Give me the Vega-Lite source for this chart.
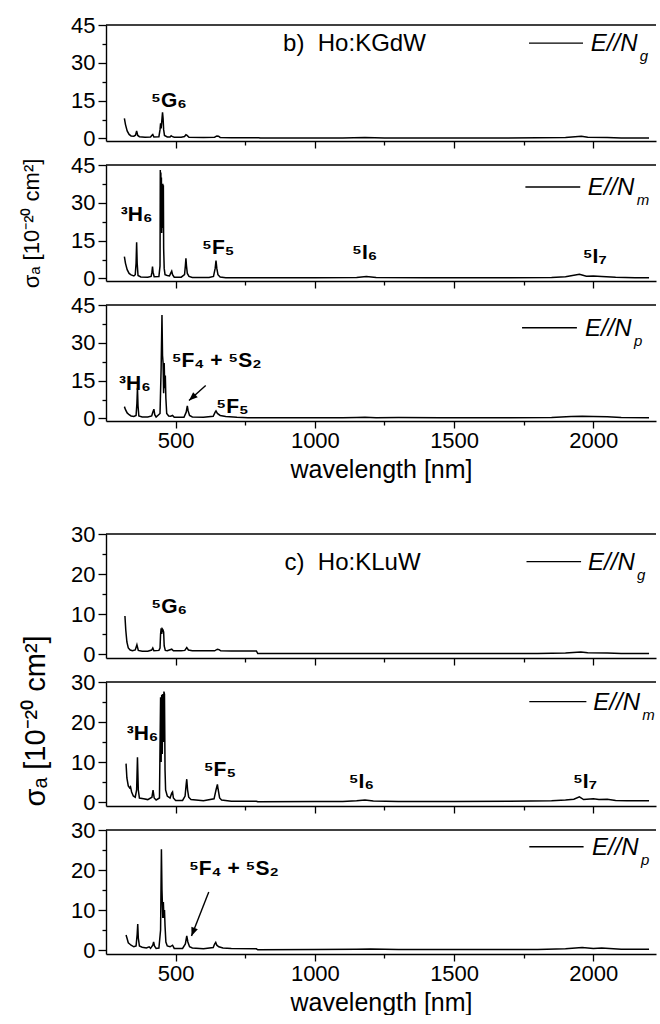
{
"$schema": "https://vega.github.io/schema/vega-lite/v6.json",
"padding": {"left": 20, "top": 14, "right": 5, "bottom": 0},
"spacing": 24,
"bounds": "flush",
"config": {
 "view": {"stroke": null},
 "font": "Liberation Sans",
 "axis": {"domainColor": "black", "domainWidth": 1.4, "tickColor": "black", "tickWidth": 1.3, "labelColor": "black", "labelFontSize": 22, "labelFont": "Liberation Sans", "titleFont": "Liberation Sans", "titleColor": "black", "titleFontWeight": "normal", "grid": false, "labelOverlap": false},
 "text": {"font": "Liberation Sans", "color": "black"}
},
"datasets": {
 "spectra": [
  {"panel":"b1","wl":316,"sigma":8.0},{"panel":"b1","wl":320,"sigma":5.5},{"panel":"b1","wl":326,"sigma":3.0},{"panel":"b1","wl":333,"sigma":1.6},{"panel":"b1","wl":340,"sigma":1.0},{"panel":"b1","wl":350,"sigma":0.9},{"panel":"b1","wl":356,"sigma":1.3},{"panel":"b1","wl":360,"sigma":3.0},{"panel":"b1","wl":364,"sigma":1.2},{"panel":"b1","wl":370,"sigma":0.7},{"panel":"b1","wl":390,"sigma":0.5},{"panel":"b1","wl":410,"sigma":0.6},{"panel":"b1","wl":415,"sigma":1.3},{"panel":"b1","wl":418,"sigma":1.6},{"panel":"b1","wl":422,"sigma":0.6},{"panel":"b1","wl":440,"sigma":0.7},{"panel":"b1","wl":444,"sigma":3.5},{"panel":"b1","wl":446,"sigma":6.0},{"panel":"b1","wl":448,"sigma":4.0},{"panel":"b1","wl":450,"sigma":6.5},{"panel":"b1","wl":453,"sigma":10.4},{"panel":"b1","wl":455,"sigma":8.0},{"panel":"b1","wl":457,"sigma":3.5},{"panel":"b1","wl":460,"sigma":1.2},{"panel":"b1","wl":470,"sigma":0.6},{"panel":"b1","wl":480,"sigma":0.6},{"panel":"b1","wl":484,"sigma":1.1},{"panel":"b1","wl":487,"sigma":0.8},{"panel":"b1","wl":495,"sigma":0.5},{"panel":"b1","wl":520,"sigma":0.5},{"panel":"b1","wl":532,"sigma":0.8},{"panel":"b1","wl":537,"sigma":1.5},{"panel":"b1","wl":541,"sigma":1.2},{"panel":"b1","wl":548,"sigma":0.5},{"panel":"b1","wl":600,"sigma":0.4},{"panel":"b1","wl":640,"sigma":0.5},{"panel":"b1","wl":648,"sigma":1.0},{"panel":"b1","wl":654,"sigma":0.9},{"panel":"b1","wl":660,"sigma":0.4},{"panel":"b1","wl":700,"sigma":0.3},{"panel":"b1","wl":800,"sigma":0.3},{"panel":"b1","wl":803,"sigma":0.15},{"panel":"b1","wl":900,"sigma":0.2},{"panel":"b1","wl":1000,"sigma":0.2},{"panel":"b1","wl":1100,"sigma":0.2},{"panel":"b1","wl":1180,"sigma":0.35},{"panel":"b1","wl":1250,"sigma":0.2},{"panel":"b1","wl":1400,"sigma":0.2},{"panel":"b1","wl":1600,"sigma":0.2},{"panel":"b1","wl":1800,"sigma":0.25},{"panel":"b1","wl":1900,"sigma":0.4},{"panel":"b1","wl":1957,"sigma":0.9},{"panel":"b1","wl":1980,"sigma":0.5},{"panel":"b1","wl":2050,"sigma":0.35},{"panel":"b1","wl":2100,"sigma":0.2},{"panel":"b1","wl":2200,"sigma":0.2},

  {"panel":"b2","wl":316,"sigma":8.7},{"panel":"b2","wl":320,"sigma":6.0},{"panel":"b2","wl":326,"sigma":3.5},{"panel":"b2","wl":333,"sigma":2.0},{"panel":"b2","wl":340,"sigma":1.4},{"panel":"b2","wl":350,"sigma":1.0},{"panel":"b2","wl":355,"sigma":1.5},{"panel":"b2","wl":358,"sigma":6},{"panel":"b2","wl":360,"sigma":14.4},{"panel":"b2","wl":362,"sigma":6},{"panel":"b2","wl":365,"sigma":1.2},{"panel":"b2","wl":375,"sigma":0.6},{"panel":"b2","wl":400,"sigma":0.5},{"panel":"b2","wl":412,"sigma":0.8},{"panel":"b2","wl":415,"sigma":2.5},{"panel":"b2","wl":417,"sigma":4.7},{"panel":"b2","wl":419,"sigma":2.5},{"panel":"b2","wl":423,"sigma":0.7},{"panel":"b2","wl":440,"sigma":0.8},{"panel":"b2","wl":444,"sigma":5},{"panel":"b2","wl":445,"sigma":43},{"panel":"b2","wl":446,"sigma":30},{"panel":"b2","wl":447,"sigma":42},{"panel":"b2","wl":448,"sigma":25},{"panel":"b2","wl":449,"sigma":40},{"panel":"b2","wl":450,"sigma":18},{"panel":"b2","wl":452,"sigma":36},{"panel":"b2","wl":453,"sigma":20},{"panel":"b2","wl":454,"sigma":37.6},{"panel":"b2","wl":455,"sigma":22},{"panel":"b2","wl":456,"sigma":37},{"panel":"b2","wl":457,"sigma":12},{"panel":"b2","wl":459,"sigma":4},{"panel":"b2","wl":462,"sigma":1.5},{"panel":"b2","wl":470,"sigma":1.2},{"panel":"b2","wl":478,"sigma":1.0},{"panel":"b2","wl":482,"sigma":2.0},{"panel":"b2","wl":486,"sigma":2.9},{"panel":"b2","wl":489,"sigma":1.5},{"panel":"b2","wl":495,"sigma":0.5},{"panel":"b2","wl":520,"sigma":0.5},{"panel":"b2","wl":532,"sigma":1.5},{"panel":"b2","wl":535,"sigma":5},{"panel":"b2","wl":537,"sigma":8},{"panel":"b2","wl":539,"sigma":5},{"panel":"b2","wl":542,"sigma":2},{"panel":"b2","wl":548,"sigma":0.8},{"panel":"b2","wl":560,"sigma":0.4},{"panel":"b2","wl":620,"sigma":0.4},{"panel":"b2","wl":636,"sigma":0.8},{"panel":"b2","wl":642,"sigma":4},{"panel":"b2","wl":645,"sigma":7.1},{"panel":"b2","wl":648,"sigma":4},{"panel":"b2","wl":652,"sigma":1.5},{"panel":"b2","wl":660,"sigma":0.6},{"panel":"b2","wl":680,"sigma":0.3},{"panel":"b2","wl":800,"sigma":0.3},{"panel":"b2","wl":1000,"sigma":0.3},{"panel":"b2","wl":1150,"sigma":0.4},{"panel":"b2","wl":1185,"sigma":0.8},{"panel":"b2","wl":1220,"sigma":0.35},{"panel":"b2","wl":1400,"sigma":0.3},{"panel":"b2","wl":1700,"sigma":0.3},{"panel":"b2","wl":1850,"sigma":0.4},{"panel":"b2","wl":1900,"sigma":0.7},{"panel":"b2","wl":1950,"sigma":1.7},{"panel":"b2","wl":1975,"sigma":0.9},{"panel":"b2","wl":2000,"sigma":1.0},{"panel":"b2","wl":2030,"sigma":0.8},{"panel":"b2","wl":2080,"sigma":0.5},{"panel":"b2","wl":2150,"sigma":0.3},{"panel":"b2","wl":2200,"sigma":0.3},

  {"panel":"b3","wl":316,"sigma":4.7},{"panel":"b3","wl":320,"sigma":3.5},{"panel":"b3","wl":326,"sigma":2.2},{"panel":"b3","wl":333,"sigma":1.5},{"panel":"b3","wl":340,"sigma":1.0},{"panel":"b3","wl":350,"sigma":0.8},{"panel":"b3","wl":358,"sigma":1.2},{"panel":"b3","wl":361,"sigma":6},{"panel":"b3","wl":363,"sigma":12.2},{"panel":"b3","wl":365,"sigma":5},{"panel":"b3","wl":368,"sigma":1.0},{"panel":"b3","wl":380,"sigma":0.6},{"panel":"b3","wl":400,"sigma":0.6},{"panel":"b3","wl":414,"sigma":1.0},{"panel":"b3","wl":418,"sigma":2.5},{"panel":"b3","wl":422,"sigma":3.7},{"panel":"b3","wl":425,"sigma":1.5},{"panel":"b3","wl":430,"sigma":0.6},{"panel":"b3","wl":444,"sigma":2},{"panel":"b3","wl":448,"sigma":20},{"panel":"b3","wl":451,"sigma":41},{"panel":"b3","wl":453,"sigma":25},{"panel":"b3","wl":455,"sigma":22},{"panel":"b3","wl":457,"sigma":10},{"panel":"b3","wl":459,"sigma":22},{"panel":"b3","wl":461,"sigma":12},{"panel":"b3","wl":463,"sigma":17},{"panel":"b3","wl":465,"sigma":8},{"panel":"b3","wl":468,"sigma":2},{"panel":"b3","wl":475,"sigma":1},{"panel":"b3","wl":482,"sigma":0.9},{"panel":"b3","wl":489,"sigma":1.2},{"panel":"b3","wl":495,"sigma":0.5},{"panel":"b3","wl":530,"sigma":0.5},{"panel":"b3","wl":538,"sigma":2.5},{"panel":"b3","wl":542,"sigma":5},{"panel":"b3","wl":545,"sigma":3},{"panel":"b3","wl":550,"sigma":1.2},{"panel":"b3","wl":560,"sigma":0.6},{"panel":"b3","wl":600,"sigma":0.5},{"panel":"b3","wl":635,"sigma":0.9},{"panel":"b3","wl":642,"sigma":2.5},{"panel":"b3","wl":645,"sigma":3},{"panel":"b3","wl":650,"sigma":2},{"panel":"b3","wl":660,"sigma":1.2},{"panel":"b3","wl":680,"sigma":0.8},{"panel":"b3","wl":720,"sigma":0.5},{"panel":"b3","wl":760,"sigma":0.3},{"panel":"b3","wl":800,"sigma":0.25},{"panel":"b3","wl":1000,"sigma":0.25},{"panel":"b3","wl":1100,"sigma":0.3},{"panel":"b3","wl":1150,"sigma":0.4},{"panel":"b3","wl":1180,"sigma":0.45},{"panel":"b3","wl":1220,"sigma":0.3},{"panel":"b3","wl":1300,"sigma":0.35},{"panel":"b3","wl":1450,"sigma":0.3},{"panel":"b3","wl":1700,"sigma":0.3},{"panel":"b3","wl":1850,"sigma":0.4},{"panel":"b3","wl":1920,"sigma":0.8},{"panel":"b3","wl":1960,"sigma":0.9},{"panel":"b3","wl":2000,"sigma":0.8},{"panel":"b3","wl":2050,"sigma":0.7},{"panel":"b3","wl":2100,"sigma":0.35},{"panel":"b3","wl":2200,"sigma":0.3},

  {"panel":"c1","wl":318,"sigma":9.5},{"panel":"c1","wl":321,"sigma":6},{"panel":"c1","wl":325,"sigma":3},{"panel":"c1","wl":330,"sigma":1.5},{"panel":"c1","wl":337,"sigma":1.0},{"panel":"c1","wl":345,"sigma":0.8},{"panel":"c1","wl":355,"sigma":1.0},{"panel":"c1","wl":361,"sigma":2.3},{"panel":"c1","wl":366,"sigma":0.9},{"panel":"c1","wl":380,"sigma":0.7},{"panel":"c1","wl":400,"sigma":0.7},{"panel":"c1","wl":414,"sigma":1.0},{"panel":"c1","wl":418,"sigma":1.5},{"panel":"c1","wl":422,"sigma":0.8},{"panel":"c1","wl":440,"sigma":0.9},{"panel":"c1","wl":444,"sigma":1.5},{"panel":"c1","wl":446,"sigma":5},{"panel":"c1","wl":448,"sigma":6.4},{"panel":"c1","wl":450,"sigma":5},{"panel":"c1","wl":452,"sigma":6.3},{"panel":"c1","wl":455,"sigma":6.0},{"panel":"c1","wl":457,"sigma":5.5},{"panel":"c1","wl":459,"sigma":2},{"panel":"c1","wl":463,"sigma":0.9},{"panel":"c1","wl":470,"sigma":0.8},{"panel":"c1","wl":486,"sigma":1.2},{"panel":"c1","wl":492,"sigma":0.8},{"panel":"c1","wl":520,"sigma":0.8},{"panel":"c1","wl":533,"sigma":0.9},{"panel":"c1","wl":540,"sigma":1.6},{"panel":"c1","wl":546,"sigma":1.0},{"panel":"c1","wl":560,"sigma":0.8},{"panel":"c1","wl":640,"sigma":0.8},{"panel":"c1","wl":650,"sigma":1.2},{"panel":"c1","wl":656,"sigma":1.1},{"panel":"c1","wl":662,"sigma":0.8},{"panel":"c1","wl":700,"sigma":0.75},{"panel":"c1","wl":790,"sigma":0.75},{"panel":"c1","wl":795,"sigma":0.1},{"panel":"c1","wl":900,"sigma":0.15},{"panel":"c1","wl":1000,"sigma":0.1},{"panel":"c1","wl":1100,"sigma":0.15},{"panel":"c1","wl":1200,"sigma":0.15},{"panel":"c1","wl":1400,"sigma":0.1},{"panel":"c1","wl":1600,"sigma":0.1},{"panel":"c1","wl":1800,"sigma":0.15},{"panel":"c1","wl":1900,"sigma":0.25},{"panel":"c1","wl":1955,"sigma":0.5},{"panel":"c1","wl":1980,"sigma":0.3},{"panel":"c1","wl":2050,"sigma":0.25},{"panel":"c1","wl":2100,"sigma":0.15},{"panel":"c1","wl":2200,"sigma":0.15},

  {"panel":"c2","wl":322,"sigma":9.6},{"panel":"c2","wl":325,"sigma":6},{"panel":"c2","wl":330,"sigma":4},{"panel":"c2","wl":335,"sigma":3.5},{"panel":"c2","wl":338,"sigma":3.8},{"panel":"c2","wl":342,"sigma":2.5},{"panel":"c2","wl":348,"sigma":1.5},{"panel":"c2","wl":355,"sigma":1.2},{"panel":"c2","wl":360,"sigma":3},{"panel":"c2","wl":363,"sigma":11.2},{"panel":"c2","wl":366,"sigma":3},{"panel":"c2","wl":370,"sigma":1.0},{"panel":"c2","wl":385,"sigma":0.8},{"panel":"c2","wl":400,"sigma":0.6},{"panel":"c2","wl":415,"sigma":1.2},{"panel":"c2","wl":419,"sigma":3},{"panel":"c2","wl":423,"sigma":1.0},{"panel":"c2","wl":430,"sigma":0.5},{"panel":"c2","wl":442,"sigma":1},{"panel":"c2","wl":446,"sigma":26.2},{"panel":"c2","wl":448,"sigma":10},{"panel":"c2","wl":450,"sigma":26.8},{"panel":"c2","wl":452,"sigma":12},{"panel":"c2","wl":454,"sigma":27},{"panel":"c2","wl":456,"sigma":15},{"panel":"c2","wl":458,"sigma":27.6},{"panel":"c2","wl":460,"sigma":27},{"panel":"c2","wl":462,"sigma":8},{"panel":"c2","wl":464,"sigma":3},{"panel":"c2","wl":470,"sigma":1.5},{"panel":"c2","wl":480,"sigma":1},{"panel":"c2","wl":486,"sigma":2.2},{"panel":"c2","wl":489,"sigma":2.5},{"panel":"c2","wl":492,"sigma":1.0},{"panel":"c2","wl":500,"sigma":0.4},{"panel":"c2","wl":525,"sigma":0.4},{"panel":"c2","wl":534,"sigma":1.5},{"panel":"c2","wl":538,"sigma":4.5},{"panel":"c2","wl":540,"sigma":5.7},{"panel":"c2","wl":543,"sigma":3},{"panel":"c2","wl":547,"sigma":1.2},{"panel":"c2","wl":555,"sigma":0.6},{"panel":"c2","wl":600,"sigma":0.3},{"panel":"c2","wl":638,"sigma":0.8},{"panel":"c2","wl":645,"sigma":3},{"panel":"c2","wl":650,"sigma":4.4},{"panel":"c2","wl":653,"sigma":3},{"panel":"c2","wl":658,"sigma":1.0},{"panel":"c2","wl":665,"sigma":0.5},{"panel":"c2","wl":700,"sigma":0.2},{"panel":"c2","wl":790,"sigma":0.2},{"panel":"c2","wl":795,"sigma":0.05},{"panel":"c2","wl":1000,"sigma":0.1},{"panel":"c2","wl":1100,"sigma":0.15},{"panel":"c2","wl":1150,"sigma":0.3},{"panel":"c2","wl":1180,"sigma":0.5},{"panel":"c2","wl":1210,"sigma":0.25},{"panel":"c2","wl":1300,"sigma":0.15},{"panel":"c2","wl":1500,"sigma":0.15},{"panel":"c2","wl":1700,"sigma":0.2},{"panel":"c2","wl":1850,"sigma":0.3},{"panel":"c2","wl":1900,"sigma":0.5},{"panel":"c2","wl":1930,"sigma":0.7},{"panel":"c2","wl":1950,"sigma":1.3},{"panel":"c2","wl":1965,"sigma":0.6},{"panel":"c2","wl":2000,"sigma":0.8},{"panel":"c2","wl":2020,"sigma":0.6},{"panel":"c2","wl":2050,"sigma":0.7},{"panel":"c2","wl":2080,"sigma":0.4},{"panel":"c2","wl":2120,"sigma":0.3},{"panel":"c2","wl":2200,"sigma":0.3},

  {"panel":"c3","wl":322,"sigma":3.75},{"panel":"c3","wl":326,"sigma":2.8},{"panel":"c3","wl":330,"sigma":1.8},{"panel":"c3","wl":335,"sigma":1.5},{"panel":"c3","wl":340,"sigma":1.2},{"panel":"c3","wl":350,"sigma":0.8},{"panel":"c3","wl":358,"sigma":1.0},{"panel":"c3","wl":362,"sigma":4},{"panel":"c3","wl":364,"sigma":6.5},{"panel":"c3","wl":366,"sigma":3},{"panel":"c3","wl":370,"sigma":1.0},{"panel":"c3","wl":380,"sigma":0.7},{"panel":"c3","wl":395,"sigma":0.5},{"panel":"c3","wl":405,"sigma":0.8},{"panel":"c3","wl":410,"sigma":0.4},{"panel":"c3","wl":418,"sigma":1.2},{"panel":"c3","wl":421,"sigma":2.0},{"panel":"c3","wl":424,"sigma":1.0},{"panel":"c3","wl":430,"sigma":0.4},{"panel":"c3","wl":440,"sigma":0.5},{"panel":"c3","wl":446,"sigma":5},{"panel":"c3","wl":449,"sigma":25.2},{"panel":"c3","wl":451,"sigma":15},{"panel":"c3","wl":454,"sigma":8},{"panel":"c3","wl":456,"sigma":12},{"panel":"c3","wl":458,"sigma":8},{"panel":"c3","wl":460,"sigma":10},{"panel":"c3","wl":462,"sigma":6},{"panel":"c3","wl":465,"sigma":2},{"panel":"c3","wl":470,"sigma":1},{"panel":"c3","wl":480,"sigma":0.8},{"panel":"c3","wl":489,"sigma":1.2},{"panel":"c3","wl":495,"sigma":0.4},{"panel":"c3","wl":525,"sigma":0.4},{"panel":"c3","wl":535,"sigma":1.5},{"panel":"c3","wl":540,"sigma":3.5},{"panel":"c3","wl":544,"sigma":2},{"panel":"c3","wl":550,"sigma":0.8},{"panel":"c3","wl":560,"sigma":0.5},{"panel":"c3","wl":600,"sigma":0.3},{"panel":"c3","wl":635,"sigma":0.6},{"panel":"c3","wl":640,"sigma":1.5},{"panel":"c3","wl":644,"sigma":1.9},{"panel":"c3","wl":648,"sigma":1.2},{"panel":"c3","wl":655,"sigma":0.8},{"panel":"c3","wl":670,"sigma":0.5},{"panel":"c3","wl":700,"sigma":0.4},{"panel":"c3","wl":790,"sigma":0.3},{"panel":"c3","wl":795,"sigma":0.05},{"panel":"c3","wl":1000,"sigma":0.1},{"panel":"c3","wl":1150,"sigma":0.2},{"panel":"c3","wl":1200,"sigma":0.25},{"panel":"c3","wl":1300,"sigma":0.1},{"panel":"c3","wl":1500,"sigma":0.1},{"panel":"c3","wl":1800,"sigma":0.15},{"panel":"c3","wl":1900,"sigma":0.3},{"panel":"c3","wl":1960,"sigma":0.6},{"panel":"c3","wl":2000,"sigma":0.4},{"panel":"c3","wl":2030,"sigma":0.5},{"panel":"c3","wl":2100,"sigma":0.2},{"panel":"c3","wl":2200,"sigma":0.2}
 ],
 "labels": [
  {"panel":"b1","wl":476,"sigma":14.8,"label":"⁵G₆"},
  {"panel":"b2","wl":360,"sigma":25.2,"label":"³H₆"},
  {"panel":"b2","wl":653,"sigma":12.1,"label":"⁵F₅"},
  {"panel":"b2","wl":1179,"sigma":10.1,"label":"⁵I₆"},
  {"panel":"b2","wl":2005,"sigma":8.7,"label":"⁵I₇"},
  {"panel":"b3","wl":354,"sigma":13.8,"label":"³H₆"},
  {"panel":"b3","wl":647,"sigma":22.6,"label":"⁵F₄ + ⁵S₂"},
  {"panel":"b3","wl":704,"sigma":4.4,"label":"⁵F₅"},
  {"panel":"c1","wl":477,"sigma":11.7,"label":"⁵G₆"},
  {"panel":"c2","wl":381,"sigma":17,"label":"³H₆"},
  {"panel":"c2","wl":659,"sigma":7.9,"label":"⁵F₅"},
  {"panel":"c2","wl":1167,"sigma":5.1,"label":"⁵I₆"},
  {"panel":"c2","wl":1970,"sigma":5.1,"label":"⁵I₇"},
  {"panel":"c3","wl":709,"sigma":20.2,"label":"⁵F₄ + ⁵S₂"}
 ],
 "heads": [
  {"panel":"b1","wl":886,"sigma":37.4,"label":"b)\u00a0 Ho:KGdW"},
  {"panel":"c1","wl":891,"sigma":22.8,"label":"c)\u00a0 Ho:KLuW"}
 ],
 "keylines": [
  {"panel":"b1","wl":1769,"wl2":1963,"sigma":37.8},
  {"panel":"b2","wl":1756,"wl2":1953,"sigma":36.3},
  {"panel":"b3","wl":1744,"wl2":1941,"sigma":36},
  {"panel":"c1","wl":1760,"wl2":1956,"sigma":23.1},
  {"panel":"c2","wl":1770,"wl2":1975,"sigma":25.1},
  {"panel":"c3","wl":1770,"wl2":1965,"sigma":25.8}
 ],
 "keytext": [
  {"panel":"b1","wl":1991,"sigma":37.8,"label":"E//N","sub":"g"},
  {"panel":"b2","wl":1980,"sigma":36.3,"label":"E//N","sub":"m"},
  {"panel":"b3","wl":1970,"sigma":36,"label":"E//N","sub":"p"},
  {"panel":"c1","wl":1981,"sigma":23.1,"label":"E//N","sub":"g"},
  {"panel":"c2","wl":2000,"sigma":25.1,"label":"E//N","sub":"m"},
  {"panel":"c3","wl":1995,"sigma":25.8,"label":"E//N","sub":"p"}
 ],
 "arrows": [
  {"panel":"b3","wl":548,"sigma":7.1,"wl2":608,"sigma2":13.1},
  {"panel":"c3","wl":557,"sigma":3.5,"wl2":619,"sigma2":14.5}
 ]
},
"vconcat": [
 {
  "width": 550, "height": 116,
  "encoding": {
   "x": {"field": "wl", "type": "quantitative", "scale": {"domain": [250, 2225], "nice": false, "zero": false}, "axis": {"values": [500,750,1000,1250,1500,1750,2000], "labels": false, "title": null, "tickSize": {"condition": {"test": "datum.value % 500 === 0", "value": 7}, "value": 4}}},
   "y": {"field": "sigma", "type": "quantitative", "scale": {"domain": [-1, 45], "nice": false, "zero": false}, "axis": {"values": [0,7.5,15,22.5,30,37.5,45], "labelExpr": "datum.value % 15 === 0 ? datum.label : ''", "tickSize": {"condition": {"test": "datum.value % 15 === 0", "value": 8}, "value": 4}, "labelPadding": 3, "title": null}}
  },
  "layer": [
   {"data": {"name": "spectra"}, "transform": [{"filter": "datum.panel === 'b1'"}], "mark": {"type": "line", "color": "black", "strokeWidth": 1.5}},
   {"data": {"values": [{"wl": 250, "wl2": 2225, "sigma": 45}]}, "mark": {"type": "rule", "color": "black", "strokeWidth": 1.4}, "encoding": {"x2": {"field": "wl2"}}},
   {"data": {"name": "labels"}, "transform": [{"filter": "datum.panel === 'b1'"}], "mark": {"type": "text", "fontWeight": "bold", "fontSize": 21}, "encoding": {"text": {"field": "label"}}},
   {"data": {"name": "heads"}, "transform": [{"filter": "datum.panel === 'b1'"}], "mark": {"type": "text", "align": "left", "fontSize": 24}, "encoding": {"text": {"field": "label"}}},
   {"data": {"name": "keylines"}, "transform": [{"filter": "datum.panel === 'b1'"}], "mark": {"type": "rule", "color": "black", "strokeWidth": 1.4}, "encoding": {"x2": {"field": "wl2"}}},
   {"data": {"name": "keytext"}, "transform": [{"filter": "datum.panel === 'b1'"}], "mark": {"type": "text", "align": "left", "fontSize": 24, "fontStyle": "italic", "dy": 1}, "encoding": {"text": {"field": "label"}}},
   {"data": {"name": "keytext"}, "transform": [{"filter": "datum.panel === 'b1'"}], "mark": {"type": "text", "align": "left", "fontSize": 15, "fontStyle": "italic", "dx": 49, "dy": 13}, "encoding": {"text": {"field": "sub"}}}
  ]
 },
 {
  "width": 550, "height": 116,
  "encoding": {
   "x": {"field": "wl", "type": "quantitative", "scale": {"domain": [250, 2225], "nice": false, "zero": false}, "axis": {"values": [500,750,1000,1250,1500,1750,2000], "labels": false, "title": null, "tickSize": {"condition": {"test": "datum.value % 500 === 0", "value": 7}, "value": 4}}},
   "y": {"field": "sigma", "type": "quantitative", "scale": {"domain": [-1, 45], "nice": false, "zero": false}, "axis": {"values": [0,7.5,15,22.5,30,37.5,45], "labelExpr": "datum.value % 15 === 0 ? datum.label : ''", "tickSize": {"condition": {"test": "datum.value % 15 === 0", "value": 8}, "value": 4}, "labelPadding": 3, "title": "σₐ [10⁻²⁰ cm²]", "titleFontSize": 22, "titlePadding": 27}}
  },
  "layer": [
   {"data": {"name": "spectra"}, "transform": [{"filter": "datum.panel === 'b2'"}], "mark": {"type": "line", "color": "black", "strokeWidth": 1.5}},
   {"data": {"values": [{"wl": 250, "wl2": 2225, "sigma": 45}]}, "mark": {"type": "rule", "color": "black", "strokeWidth": 1.4}, "encoding": {"x2": {"field": "wl2"}}},
   {"data": {"name": "labels"}, "transform": [{"filter": "datum.panel === 'b2'"}], "mark": {"type": "text", "fontWeight": "bold", "fontSize": 21}, "encoding": {"text": {"field": "label"}}},
   {"data": {"name": "keylines"}, "transform": [{"filter": "datum.panel === 'b2'"}], "mark": {"type": "rule", "color": "black", "strokeWidth": 1.4}, "encoding": {"x2": {"field": "wl2"}}},
   {"data": {"name": "keytext"}, "transform": [{"filter": "datum.panel === 'b2'"}], "mark": {"type": "text", "align": "left", "fontSize": 24, "fontStyle": "italic", "dy": 1}, "encoding": {"text": {"field": "label"}}},
   {"data": {"name": "keytext"}, "transform": [{"filter": "datum.panel === 'b2'"}], "mark": {"type": "text", "align": "left", "fontSize": 15, "fontStyle": "italic", "dx": 49, "dy": 13}, "encoding": {"text": {"field": "sub"}}}
  ]
 },
 {
  "width": 550, "height": 116,
  "encoding": {
   "x": {"field": "wl", "type": "quantitative", "scale": {"domain": [250, 2225], "nice": false, "zero": false}, "axis": {"values": [500,750,1000,1250,1500,1750,2000], "format": "d", "labelExpr": "datum.value % 500 === 0 ? datum.label : ''", "title": "wavelength [nm]", "titleFontSize": 25, "titlePadding": 6, "tickSize": {"condition": {"test": "datum.value % 500 === 0", "value": 7}, "value": 4}}},
   "y": {"field": "sigma", "type": "quantitative", "scale": {"domain": [-1, 45], "nice": false, "zero": false}, "axis": {"values": [0,7.5,15,22.5,30,37.5,45], "labelExpr": "datum.value % 15 === 0 ? datum.label : ''", "tickSize": {"condition": {"test": "datum.value % 15 === 0", "value": 8}, "value": 4}, "labelPadding": 3, "title": null}}
  },
  "layer": [
   {"data": {"name": "spectra"}, "transform": [{"filter": "datum.panel === 'b3'"}], "mark": {"type": "line", "color": "black", "strokeWidth": 1.5}},
   {"data": {"values": [{"wl": 250, "wl2": 2225, "sigma": 45}]}, "mark": {"type": "rule", "color": "black", "strokeWidth": 1.4}, "encoding": {"x2": {"field": "wl2"}}},
   {"data": {"name": "labels"}, "transform": [{"filter": "datum.panel === 'b3'"}], "mark": {"type": "text", "fontWeight": "bold", "fontSize": 21}, "encoding": {"text": {"field": "label"}}},
   {"data": {"name": "arrows"}, "transform": [{"filter": "datum.panel === 'b3'"}], "mark": {"type": "rule", "color": "black", "strokeWidth": 1.4}, "encoding": {"x2": {"field": "wl2"}, "y2": {"field": "sigma2"}}},
   {"data": {"name": "arrows"}, "transform": [{"filter": "datum.panel === 'b3'"}], "mark": {"type": "point", "shape": "M0,0L-0.4,1L0.4,1Z", "size": 300, "filled": true, "color": "black", "opacity": 1, "angle": 228}},
   {"data": {"name": "keylines"}, "transform": [{"filter": "datum.panel === 'b3'"}], "mark": {"type": "rule", "color": "black", "strokeWidth": 1.4}, "encoding": {"x2": {"field": "wl2"}}},
   {"data": {"name": "keytext"}, "transform": [{"filter": "datum.panel === 'b3'"}], "mark": {"type": "text", "align": "left", "fontSize": 24, "fontStyle": "italic", "dy": 1}, "encoding": {"text": {"field": "label"}}},
   {"data": {"name": "keytext"}, "transform": [{"filter": "datum.panel === 'b3'"}], "mark": {"type": "text", "align": "left", "fontSize": 15, "fontStyle": "italic", "dx": 49, "dy": 13}, "encoding": {"text": {"field": "sub"}}}
  ]
 },
 {
  "width": 550, "height": 65,
  "data": {"values": []},
  "mark": {"type": "point", "opacity": 0}
 },
 {
  "width": 550, "height": 124,
  "encoding": {
   "x": {"field": "wl", "type": "quantitative", "scale": {"domain": [250, 2225], "nice": false, "zero": false}, "axis": {"values": [500,750,1000,1250,1500,1750,2000], "labels": false, "title": null, "tickSize": {"condition": {"test": "datum.value % 500 === 0", "value": 7}, "value": 4}}},
   "y": {"field": "sigma", "type": "quantitative", "scale": {"domain": [-1, 30], "nice": false, "zero": false}, "axis": {"values": [0,5,10,15,20,25,30], "labelExpr": "datum.value % 10 === 0 ? datum.label : ''", "tickSize": {"condition": {"test": "datum.value % 10 === 0", "value": 8}, "value": 4}, "labelPadding": 3, "title": null}}
  },
  "layer": [
   {"data": {"name": "spectra"}, "transform": [{"filter": "datum.panel === 'c1'"}], "mark": {"type": "line", "color": "black", "strokeWidth": 1.5}},
   {"data": {"values": [{"wl": 250, "wl2": 2225, "sigma": 30}]}, "mark": {"type": "rule", "color": "black", "strokeWidth": 1.4}, "encoding": {"x2": {"field": "wl2"}}},
   {"data": {"name": "labels"}, "transform": [{"filter": "datum.panel === 'c1'"}], "mark": {"type": "text", "fontWeight": "bold", "fontSize": 21}, "encoding": {"text": {"field": "label"}}},
   {"data": {"name": "heads"}, "transform": [{"filter": "datum.panel === 'c1'"}], "mark": {"type": "text", "align": "left", "fontSize": 24}, "encoding": {"text": {"field": "label"}}},
   {"data": {"name": "keylines"}, "transform": [{"filter": "datum.panel === 'c1'"}], "mark": {"type": "rule", "color": "black", "strokeWidth": 1.4}, "encoding": {"x2": {"field": "wl2"}}},
   {"data": {"name": "keytext"}, "transform": [{"filter": "datum.panel === 'c1'"}], "mark": {"type": "text", "align": "left", "fontSize": 24, "fontStyle": "italic", "dy": 1}, "encoding": {"text": {"field": "label"}}},
   {"data": {"name": "keytext"}, "transform": [{"filter": "datum.panel === 'c1'"}], "mark": {"type": "text", "align": "left", "fontSize": 15, "fontStyle": "italic", "dx": 49, "dy": 13}, "encoding": {"text": {"field": "sub"}}}
  ]
 },
 {
  "width": 550, "height": 124,
  "encoding": {
   "x": {"field": "wl", "type": "quantitative", "scale": {"domain": [250, 2225], "nice": false, "zero": false}, "axis": {"values": [500,750,1000,1250,1500,1750,2000], "labels": false, "title": null, "tickSize": {"condition": {"test": "datum.value % 500 === 0", "value": 7}, "value": 4}}},
   "y": {"field": "sigma", "type": "quantitative", "scale": {"domain": [-1, 30], "nice": false, "zero": false}, "axis": {"values": [0,5,10,15,20,25,30], "labelExpr": "datum.value % 10 === 0 ? datum.label : ''", "tickSize": {"condition": {"test": "datum.value % 10 === 0", "value": 8}, "value": 4}, "labelPadding": 3, "title": "σₐ [10⁻²⁰ cm²]", "titleFontSize": 29, "titlePadding": 20, "titleAnchor": "start"}}
  },
  "layer": [
   {"data": {"name": "spectra"}, "transform": [{"filter": "datum.panel === 'c2'"}], "mark": {"type": "line", "color": "black", "strokeWidth": 1.5}},
   {"data": {"values": [{"wl": 250, "wl2": 2225, "sigma": 30}]}, "mark": {"type": "rule", "color": "black", "strokeWidth": 1.4}, "encoding": {"x2": {"field": "wl2"}}},
   {"data": {"name": "labels"}, "transform": [{"filter": "datum.panel === 'c2'"}], "mark": {"type": "text", "fontWeight": "bold", "fontSize": 21}, "encoding": {"text": {"field": "label"}}},
   {"data": {"name": "keylines"}, "transform": [{"filter": "datum.panel === 'c2'"}], "mark": {"type": "rule", "color": "black", "strokeWidth": 1.4}, "encoding": {"x2": {"field": "wl2"}}},
   {"data": {"name": "keytext"}, "transform": [{"filter": "datum.panel === 'c2'"}], "mark": {"type": "text", "align": "left", "fontSize": 24, "fontStyle": "italic", "dy": 1}, "encoding": {"text": {"field": "label"}}},
   {"data": {"name": "keytext"}, "transform": [{"filter": "datum.panel === 'c2'"}], "mark": {"type": "text", "align": "left", "fontSize": 15, "fontStyle": "italic", "dx": 49, "dy": 13}, "encoding": {"text": {"field": "sub"}}}
  ]
 },
 {
  "width": 550, "height": 124,
  "encoding": {
   "x": {"field": "wl", "type": "quantitative", "scale": {"domain": [250, 2225], "nice": false, "zero": false}, "axis": {"values": [500,750,1000,1250,1500,1750,2000], "format": "d", "labelExpr": "datum.value % 500 === 0 ? datum.label : ''", "title": "wavelength [nm]", "titleFontSize": 25, "titlePadding": 6, "tickSize": {"condition": {"test": "datum.value % 500 === 0", "value": 7}, "value": 4}}},
   "y": {"field": "sigma", "type": "quantitative", "scale": {"domain": [-1, 30], "nice": false, "zero": false}, "axis": {"values": [0,5,10,15,20,25,30], "labelExpr": "datum.value % 10 === 0 ? datum.label : ''", "tickSize": {"condition": {"test": "datum.value % 10 === 0", "value": 8}, "value": 4}, "labelPadding": 3, "title": null}}
  },
  "layer": [
   {"data": {"name": "spectra"}, "transform": [{"filter": "datum.panel === 'c3'"}], "mark": {"type": "line", "color": "black", "strokeWidth": 1.5}},
   {"data": {"values": [{"wl": 250, "wl2": 2225, "sigma": 30}]}, "mark": {"type": "rule", "color": "black", "strokeWidth": 1.4}, "encoding": {"x2": {"field": "wl2"}}},
   {"data": {"name": "labels"}, "transform": [{"filter": "datum.panel === 'c3'"}], "mark": {"type": "text", "fontWeight": "bold", "fontSize": 21}, "encoding": {"text": {"field": "label"}}},
   {"data": {"name": "arrows"}, "transform": [{"filter": "datum.panel === 'c3'"}], "mark": {"type": "rule", "color": "black", "strokeWidth": 1.4}, "encoding": {"x2": {"field": "wl2"}, "y2": {"field": "sigma2"}}},
   {"data": {"name": "arrows"}, "transform": [{"filter": "datum.panel === 'c3'"}], "mark": {"type": "point", "shape": "M0,0L-0.4,1L0.4,1Z", "size": 300, "filled": true, "color": "black", "opacity": 1, "angle": 201}},
   {"data": {"name": "keylines"}, "transform": [{"filter": "datum.panel === 'c3'"}], "mark": {"type": "rule", "color": "black", "strokeWidth": 1.4}, "encoding": {"x2": {"field": "wl2"}}},
   {"data": {"name": "keytext"}, "transform": [{"filter": "datum.panel === 'c3'"}], "mark": {"type": "text", "align": "left", "fontSize": 24, "fontStyle": "italic", "dy": 1}, "encoding": {"text": {"field": "label"}}},
   {"data": {"name": "keytext"}, "transform": [{"filter": "datum.panel === 'c3'"}], "mark": {"type": "text", "align": "left", "fontSize": 15, "fontStyle": "italic", "dx": 49, "dy": 13}, "encoding": {"text": {"field": "sub"}}}
  ]
 }
]
}
